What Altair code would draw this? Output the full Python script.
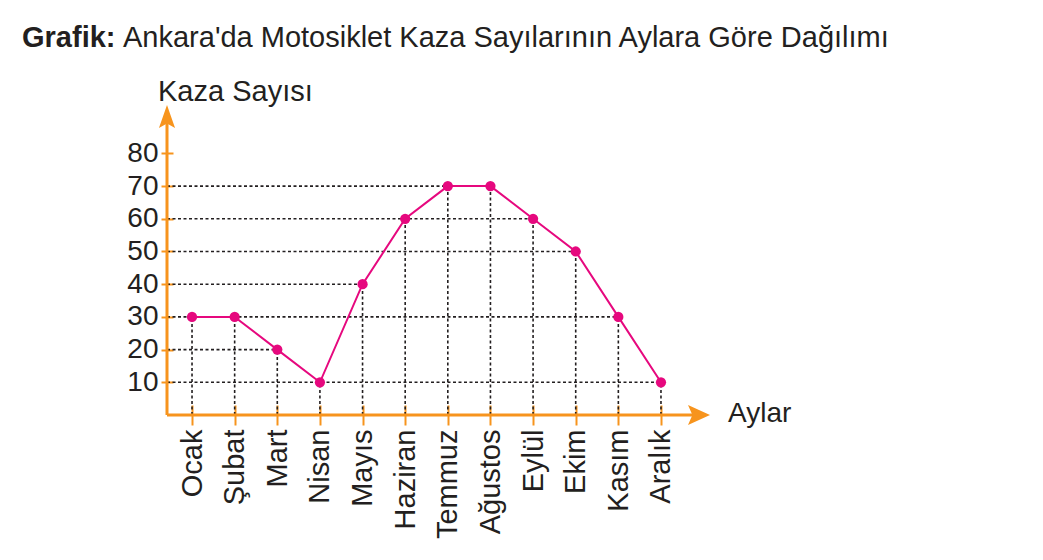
import altair as alt
import pandas as pd

months = ["Ocak", "Şubat", "Mart", "Nisan", "Mayıs", "Haziran", "Temmuz",
          "Ağustos", "Eylül", "Ekim", "Kasım", "Aralık"]
counts = [30, 30, 20, 10, 40, 60, 70, 70, 60, 50, 30, 10]
y_ticks = [10, 20, 30, 40, 50, 60, 70, 80]

title_bold = "Grafik:"
title_rest = "Ankara'da Motosiklet Kaza Sayılarının Aylara Göre Dağılımı"
y_title = "Kaza Sayısı"
x_title = "Aylar"

# layout constants
X_MIN, X_MAX = 0.413, 13.15
Y_MIN, Y_MAX = 0, 94.8
W, H = 543, 310
LEFT, TOP = 167, 105

ORANGE = "#F7941D"
PINK = "#E6087E"
DARK = "#231F20"
FONT = "Liberation Sans"
FS = 28

df = pd.DataFrame({"i": list(range(1, 13)), "month": months, "count": counts})
df["zero"] = 0
hguide = df.groupby("count", as_index=False)["i"].max()
hguide["x0"] = X_MIN

xs = alt.Scale(domain=[X_MIN, X_MAX], nice=False, zero=False)
ys = alt.Scale(domain=[Y_MIN, Y_MAX], nice=False, zero=False)

label_expr = "[" + ",".join(f"'{m}'" for m in months) + "][datum.value-1]"

x_axis = alt.Axis(values=list(range(1, 13)), labelExpr=label_expr, labelAngle=-90,
                  labelFontSize=29, labelFont=FONT, labelColor=DARK, labelPadding=4,
                  labelOverlap=False, labelFlush=False, tickColor=ORANGE, tickWidth=2,
                  tickSize=20, offset=-10, domain=False, grid=False, title=None)
y_axis = alt.Axis(values=y_ticks, labelFontSize=FS, labelFont=FONT, labelColor=DARK,
                  labelPadding=3, labelOverlap=False, labelFlush=False,
                  tickColor=ORANGE, tickWidth=2, tickSize=12, offset=-6,
                  domain=False, grid=False, title=None)

base = alt.Chart(df)

vguides = base.mark_rule(color=DARK, strokeDash=[3, 2.5], strokeWidth=1.6).encode(
    x=alt.X("i:Q", scale=xs, axis=x_axis),
    y=alt.Y("zero:Q", scale=ys, axis=y_axis),
    y2="count:Q",
)
hguides = alt.Chart(hguide).mark_rule(color=DARK, strokeDash=[3, 2.5], strokeWidth=1.6).encode(
    x=alt.X("x0:Q", scale=xs),
    x2="i:Q",
    y=alt.Y("count:Q", scale=ys),
)

axes_df = pd.DataFrame({"x": [X_MIN], "y": [Y_MIN], "xe": [X_MAX - 0.3], "ye": [Y_MAX - 4]})
y_line = alt.Chart(axes_df).mark_rule(color=ORANGE, strokeWidth=3).encode(
    x=alt.X("x:Q", scale=xs), y=alt.Y("y:Q", scale=ys), y2="ye:Q")
x_line = alt.Chart(axes_df).mark_rule(color=ORANGE, strokeWidth=3).encode(
    x=alt.X("x:Q", scale=xs), x2="xe:Q", y=alt.Y("y:Q", scale=ys))

up_arrow = alt.Chart(axes_df).mark_point(
    shape="M0,-1L0.7,1L0,0.6L-0.7,1Z", size=529, filled=True, color=ORANGE,
    opacity=1, yOffset=11.5).encode(
    x=alt.X("x:Q", scale=xs), y=alt.value(0))
right_arrow = alt.Chart(axes_df).mark_point(
    shape="M1,0L-1,-0.9L-0.6,0L-1,0.9Z", size=484, filled=True, color=ORANGE,
    opacity=1, xOffset=-11).encode(
    x=alt.value(W), y=alt.Y("y:Q", scale=ys))

line = base.mark_line(color=PINK, strokeWidth=2).encode(
    x=alt.X("i:Q", scale=xs), y=alt.Y("count:Q", scale=ys))
points = base.mark_circle(color=PINK, size=105, opacity=1).encode(
    x=alt.X("i:Q", scale=xs), y=alt.Y("count:Q", scale=ys))


def label(text, x, y, size=FS, weight="normal"):
    return alt.Chart(pd.DataFrame({"t": [text]})).mark_text(
        align="left", baseline="alphabetic", font=FONT, fontSize=size,
        fontWeight=weight, color=DARK).encode(
        text="t:N", x=alt.value(x), y=alt.value(y))


t1 = label(title_bold, 22 - LEFT, 47 - TOP, size=29, weight="bold")
t2 = label(title_rest, 123 - LEFT, 47 - TOP, size=29)
t3 = label(y_title, 158 - LEFT, 101 - TOP, size=29)
t4 = label(x_title, 728 - LEFT, 422 - TOP)

chart = alt.layer(vguides, hguides, y_line, x_line, up_arrow, right_arrow,
                  line, points, t1, t2, t3, t4).properties(
    width=W, height=H,
    autosize=alt.AutoSizeParams(type="none"),
    padding={"left": LEFT, "top": TOP, "right": 1043 - LEFT - W, "bottom": 560 - TOP - H},
    background="white",
).configure_view(stroke=None)

chart.save("out.html", embed_options={"renderer": "svg", "actions": False})
